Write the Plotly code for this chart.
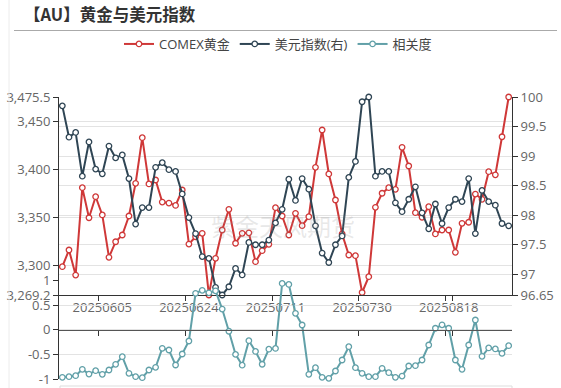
import plotly.graph_objects as go

# ---------------- data ----------------
dates = [
    "20250527", "20250528", "20250529", "20250530", "20250603", "20250604",
    "20250605", "20250606", "20250609", "20250610", "20250611", "20250612",
    "20250613", "20250616", "20250617", "20250618", "20250619", "20250620",
    "20250623", "20250624", "20250625", "20250626", "20250627", "20250630",
    "20250701", "20250702", "20250703", "20250704", "20250707", "20250708",
    "20250709", "20250710", "20250711", "20250714", "20250715", "20250716",
    "20250717", "20250718", "20250721", "20250722", "20250723", "20250724",
    "20250725", "20250728", "20250729", "20250730", "20250731", "20250801",
    "20250804", "20250805", "20250806", "20250807", "20250808", "20250811",
    "20250812", "20250813", "20250814", "20250815", "20250818", "20250819",
    "20250820", "20250821", "20250822", "20250825", "20250826", "20250827",
    "20250828", "20250829",
]

comex_gold = [
    3298.7, 3316.1, 3290.0, 3381.0, 3349.7, 3371.6, 3352.6, 3308.5, 3324.7, 3331.7,
    3351.5, 3385.6, 3433.1, 3384.9, 3389.0, 3366.0, 3365.0, 3362.5, 3378.6, 3322.3,
    3329.9, 3333.5, 3269.2, 3307.4, 3336.9, 3358.5, 3323.1, 3333.5, 3334.0, 3303.9,
    3315.4, 3322.0, 3360.2, 3351.5, 3331.7, 3354.3, 3341.4, 3350.8, 3402.2, 3441.1,
    3395.3, 3368.2, 3332.8, 3310.9, 3310.2, 3271.8, 3288.3, 3360.6, 3375.2, 3381.0,
    3379.3, 3423.1, 3403.6, 3355.0, 3350.2, 3361.2, 3332.8, 3336.9, 3336.9, 3313.7,
    3343.9, 3345.0, 3374.4, 3368.9, 3397.7, 3394.4, 3434.1, 3475.5,
]

usd_index = [
    99.85, 99.32, 99.40, 98.66, 99.24, 98.78, 98.70, 99.17, 98.97, 99.02,
    98.62, 97.85, 98.13, 98.13, 98.81, 98.89, 98.77, 98.74, 98.36, 97.96,
    97.69, 97.30, 97.27, 96.78, 96.65, 96.79, 97.10, 96.99, 97.54, 97.50,
    97.50, 97.58, 97.87, 98.10, 98.61, 98.25, 98.62, 98.44, 97.82, 97.36,
    97.20, 97.50, 97.65, 98.64, 98.91, 99.92, 100.00, 98.66, 98.74, 98.74,
    98.21, 98.06, 98.27, 98.48, 98.04, 97.77, 98.19, 97.86, 98.13, 98.27,
    98.23, 98.62, 97.69, 98.42, 98.23, 98.17, 97.86, 97.82,
]

correlation = [
    -0.966, -0.953, -0.933, -0.804, -0.899, -0.831, -0.905, -0.817, -0.702, -0.547,
    -0.885, -0.953, -0.973, -0.817, -0.763, -0.377, -0.411, -0.716, -0.492, -0.228,
    0.74, 0.80, 0.75, 0.79, 0.42, -0.03, -0.50, -0.72, -0.222, -0.44,
    -0.70, -0.395, -0.38, 0.94, 0.92, 0.334, 0.096, -0.905, -0.771, -0.966,
    -0.986, -0.838, -0.614, -0.344, -0.771, -0.885, -0.953, -0.953, -0.783, -0.871,
    -0.966, -0.94, -0.736, -0.73, -0.614, -0.31, 0.03, 0.10, 0.03, -0.614,
    -0.804, -0.31, 0.198, -0.54, -0.37, -0.39, -0.48, -0.323,
]

x_tick_labels = ["20250605", "20250624", "20250711", "20250730", "20250818"]
gold_tick_vals = [3269.2, 3300, 3350, 3400, 3450, 3475.5]
gold_tick_text = ["3,269.2", "3,300", "3,350", "3,400", "3,450", "3,475.5"]
usd_tick_vals = [96.65, 97, 97.5, 98, 98.5, 99, 99.5, 100]
usd_tick_text = ["96.65", "97", "97.5", "98", "98.5", "99", "99.5", "100"]
corr_tick_vals = [-1, -0.5, 0, 0.5, 1]
corr_tick_text = ["-1", "-0.5", "0", "0.5", "1"]

series_names = ["COMEX黄金", "美元指数(右)", "相关度"]
title_text = "【AU】黄金与美元指数"
watermark_text = "紫金天风期货"

# ---------------- style ----------------
W, H = 561, 388
L, R = 59, 512
RED = "#cf3838"
DARK = "#2f4554"
TEAL = "#61a0a8"
GRID = "#e3e3e3"
AXIS = "#333333"
LABEL = "#666666"
FONT = "Open Sans, Noto Sans CJK SC, sans-serif"


def py(p):
    return (H - p) / H


def px(p):
    return (p - L) / (R - L)


def series(x, y, name, color, xa, ya):
    return go.Scatter(
        x=x, y=y, name=name, mode="lines+markers", xaxis=xa, yaxis=ya,
        line=dict(color=color, width=2),
        marker=dict(symbol="circle", size=5.5, color="white",
                    line=dict(color=color, width=1.3)),
        cliponaxis=False,
    )


fig = go.Figure()
fig.add_trace(series(dates, comex_gold, series_names[0], RED, "x", "y"))
fig.add_trace(series(dates, usd_index, series_names[1], DARK, "x", "y3"))
fig.add_trace(series(dates, correlation, series_names[2], TEAL, "x2", "y2"))

xcommon = dict(
    type="category", range=[-0.5, len(dates) - 0.5],
    tickvals=x_tick_labels, ticktext=x_tick_labels, tickangle=0,
    tickson="boundaries", ticks="outside", ticklen=5, tickcolor=AXIS,
    showline=True, linecolor=AXIS, linewidth=1, showgrid=False,
    zeroline=False, automargin=False,
    tickfont=dict(size=13, color=LABEL, family=FONT),
)

ycommon = dict(
    ticks="outside", ticklen=5, tickcolor=AXIS, showline=True,
    linecolor=AXIS, linewidth=1, showgrid=True, gridcolor=GRID,
    gridwidth=1, zeroline=False, automargin=False,
    tickfont=dict(size=13, color=LABEL, family=FONT),
)

fig.update_layout(
    width=W, height=H,
    margin=dict(l=L, r=W - R, t=0, b=0, autoexpand=False),
    paper_bgcolor="white", plot_bgcolor="rgba(0,0,0,0)",
    font=dict(family=FONT, color="#333"),
    showlegend=True,
    legend=dict(
        orientation="h", x=px(278), xanchor="center", y=py(44),
        yanchor="middle", font=dict(size=13, color="#444", family=FONT),
        bgcolor="rgba(0,0,0,0)", itemwidth=30, tracegroupgap=0,
    ),
    xaxis=dict(domain=[0, 1], anchor="y", **xcommon),
    xaxis2=dict(domain=[0, 1], anchor="free", position=py(329.75),
                showticklabels=False, **{k: v for k, v in xcommon.items()
                                         if k != "tickfont"}),
    yaxis=dict(domain=[py(295), py(97)], anchor="x",
               range=[gold_tick_vals[0], gold_tick_vals[-1]],
               tickvals=gold_tick_vals, ticktext=gold_tick_text, **ycommon),
    yaxis3=dict(overlaying="y", side="right", anchor="x",
                range=[usd_tick_vals[0], usd_tick_vals[-1]],
                tickvals=usd_tick_vals, ticktext=usd_tick_text, **ycommon),
    yaxis2=dict(domain=[py(379), py(280.5)], anchor="x2",
                range=[corr_tick_vals[0], corr_tick_vals[-1]],
                tickvals=corr_tick_vals, ticktext=corr_tick_text, **ycommon),
    hovermode=False,
)
fig.update_layout(xaxis2_showline=True, xaxis2_linecolor="#555")

fig.add_annotation(
    text="<b>" + title_text + "</b>", xref="paper", yref="paper",
    x=px(22), y=py(14), xanchor="left", yanchor="middle", showarrow=False,
    font=dict(size=16.5, color="#333", family="Noto Sans CJK SC"),
)
fig.add_annotation(
    text=watermark_text, xref="paper", yref="paper",
    x=px(283), y=py(226), xanchor="center", yanchor="middle", showarrow=False,
    font=dict(size=24, color="rgba(150,150,150,0.22)", family="Noto Sans CJK SC"),
)
fig.add_shape(type="line", xref="paper", yref="paper",
              x0=px(14), x1=px(557), y0=py(30.5), y1=py(30.5),
              line=dict(color="#aaaaaa", width=1))
fig.add_shape(type="line", xref="paper", yref="paper",
              x0=px(9), x1=px(9), y0=py(0), y1=py(388),
              line=dict(color="#ececec", width=1))
fig.add_shape(type="rect", xref="paper", yref="paper",
              x0=px(60), x1=px(512), y0=py(400), y1=py(386),
              line=dict(color="#dddddd", width=1), fillcolor="rgba(0,0,0,0)")

fig.write_html(
    "out.html",
    config={"displayModeBar": False},
    post_script="document.body.style.margin='0';document.body.style.overflow='hidden';",
)
